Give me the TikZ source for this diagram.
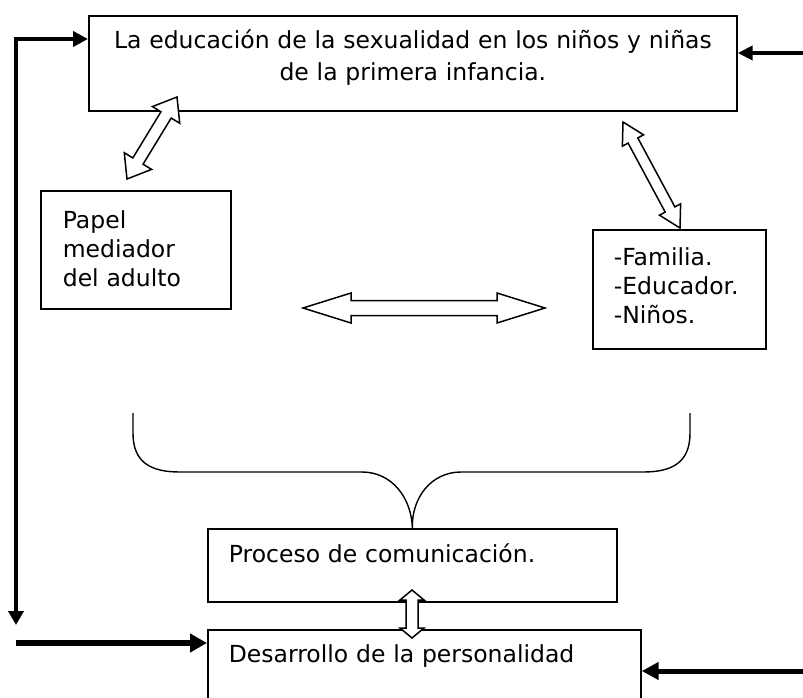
\documentclass[tikz,border=0pt]{standalone}
\usepackage{fontspec}
\setmainfont{DejaVu Sans}
\usetikzlibrary{positioning,arrows.meta,calc}

\tikzset{
  box/.style={draw, line width=1.7pt, inner ysep=0pt, anchor=north west, align=left,
    font=\fontsize{23.5}{29}\selectfont},
  thickline/.style={line width=4pt},
  hollow/.style={draw, fill=white, line width=1.5pt, line join=miter},
}

% block arrow with two heads: ends, shaft half width, head half width, head length
\newcommand{\hollowarrow}[5]{%
  \coordinate (ha) at ($(#1)!#5!(#2)$);
  \coordinate (hb) at ($(#2)!#5!(#1)$);
  \draw[hollow] (#1) -- ($(ha)!#4!90:(#2)$) -- ($(ha)!#3!90:(#2)$)
    -- ($(hb)!#3!-90:(#1)$) -- ($(hb)!#4!-90:(#1)$) -- (#2)
    -- ($(hb)!#4!90:(#1)$) -- ($(hb)!#3!90:(#1)$)
    -- ($(ha)!#3!-90:(#2)$) -- ($(ha)!#4!-90:(#2)$) -- cycle;
}

\begin{document}
\begin{tikzpicture}[x=1pt, y=-1pt]
    \clip (0,0) rectangle (803,697);
    \path[use as bounding box] (0,0) rectangle (803,697);

    % Boxes
    \node[box, align=center, inner xsep=0pt, text width=648pt, text height=33pt, text depth=62pt,
      font=\fontsize{23.5}{31.5}\selectfont]
      (edu) at (88,15) {La educación de la sexualidad en los niños y niñas\\de la primera infancia.};
    \node[box, inner xsep=22pt, text width=146pt, text height=38pt, text depth=80pt]
      (papel) at (40,190) {Papel\\mediador\\del adulto};
    \node[box, inner xsep=21pt, text width=131pt, text height=36pt, text depth=83pt]
      (fam) at (592,229) {-Familia.\\-Educador.\\-Niños.};
    \node[box, inner xsep=21pt, text width=367pt, text height=34pt, text depth=39pt]
      (pro) at (207,528) {Proceso de comunicación.};
    \node[box, inner xsep=21pt, text width=391pt, text height=33pt, text depth=58pt]
      (des) at (207,629) {Desarrollo de la personalidad};

    % Free ends of the black arrows
    \coordinate (lb) at (16,625);
    \coordinate (bl) at (16,643);
    \coordinate (tr) at (803,53);
    \coordinate (br) at (803,671);

    % Black arrows
    \draw[thickline, {Triangle[length=14pt,width=15pt]}-{Triangle[length=15pt,width=15pt]}]
      (lb) |- ($(edu.north west)+(0,24)$);
    \draw[line width=4.5pt, -{Triangle[length=15pt,width=14pt]}] (tr) -- ($(edu.north east)+(0,38)$);
    \draw[line width=6pt, -{Triangle[length=17pt,width=18pt]}] (bl) -- ($(des.north west)+(0,14)$);
    \draw[line width=5pt, -{Triangle[length=17pt,width=17pt]}] (br) -- ($(des.north east)+(0,42)$);

    % Hollow double arrows
    \coordinate (la1) at (127,179);
    \coordinate (la2) at (177,97);
    \hollowarrow{la1}{la2}{6pt}{16pt}{21pt}
    \coordinate (ra1) at (623,122);
    \coordinate (ra2) at (680,228);
    \hollowarrow{ra1}{ra2}{5.5pt}{12pt}{21pt}
    \coordinate (ma1) at (303,308);
    \coordinate (ma2) at (545,308);
    \hollowarrow{ma1}{ma2}{7.5pt}{15pt}{48pt}
    \coordinate (va1) at (412,590);
    \coordinate (va2) at (412,638);
    \hollowarrow{va1}{va2}{6pt}{12pt}{10pt}

    % Brace
    \draw[line width=1.4pt] (133,413) -- (133,433) .. controls (133,462) and (150,472) .. (180,472)
      -- (362,472) .. controls (392,472) and (411.5,498) .. (pro.north)
      .. controls (411.5,498) and (431,472) .. (461,472) -- (643,472)
      .. controls (673,472) and (690,462) .. (690,433) -- (690,413);
\end{tikzpicture}
\end{document}
